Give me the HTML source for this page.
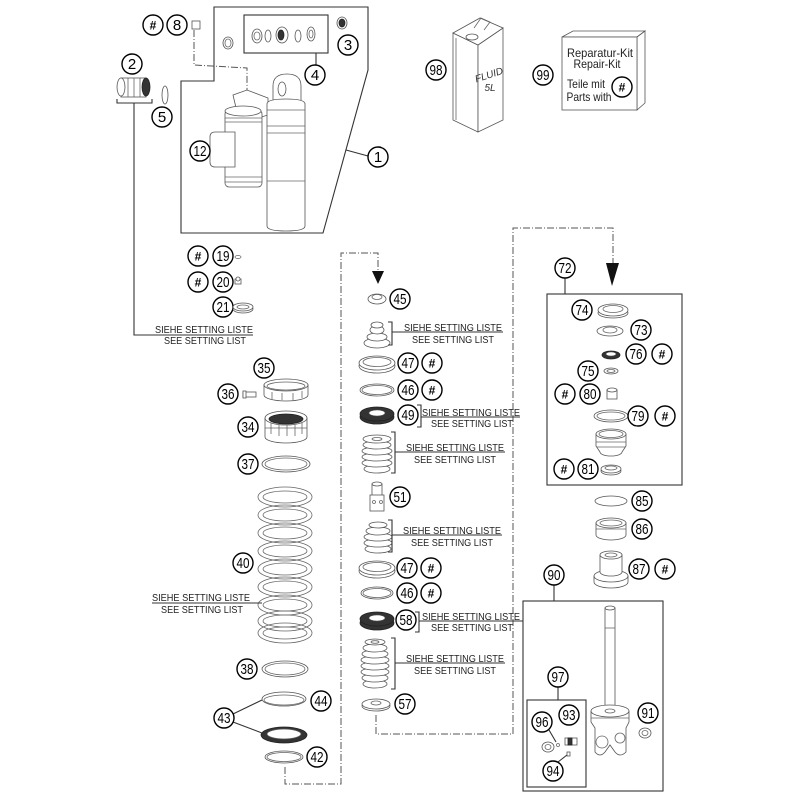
<!DOCTYPE html>
<html><head><meta charset="utf-8">
<style>
html,body{margin:0;padding:0;background:#fff;}
svg{display:block;}
.c{fill:#fff;stroke:#000;stroke-width:1.4}
.n{font-family:"Liberation Sans",sans-serif;font-size:15px;text-anchor:middle;fill:#000}
.h{font-family:"Liberation Sans",sans-serif;font-size:12px;font-weight:bold;text-anchor:middle;fill:#000}
.s{font-family:"Liberation Sans",sans-serif;font-size:10px;text-anchor:middle;fill:#222}
.l{stroke:#333;stroke-width:1.1;fill:none}
.d{stroke:#555;stroke-width:1;fill:none;stroke-dasharray:7 2 1 2}
.p{fill:#fff;stroke:#555;stroke-width:0.8}
.q{fill:none;stroke:#666;stroke-width:0.8}
.k{fill:#333;stroke:#222;stroke-width:0.8}
</style></head>
<body>
<svg width="800" height="800" viewBox="0 0 800 800" xmlns="http://www.w3.org/2000/svg">
<rect width="800" height="800" fill="#fff"/>

<!-- ===== TOP LEFT GROUP ===== -->
<polygon class="l" points="214,7 368,7 368,70 323,233 181,233 181,81 214,81"/>
<rect class="l" x="244" y="15" width="84" height="38"/>
<line class="l" x1="316" y1="53" x2="316" y2="65"/>
<line class="l" x1="346" y1="150" x2="368" y2="156"/>
<polyline class="d" points="194,30 194,65 247,68 247,92"/>

<!-- parts in item 4 box -->
<ellipse class="p" cx="257" cy="36" rx="5" ry="7"/><ellipse class="q" cx="257" cy="36" rx="3" ry="4"/>
<ellipse class="p" cx="268" cy="36" rx="3" ry="6"/>
<ellipse class="p" cx="282" cy="35" rx="6" ry="8"/><ellipse class="k" cx="281" cy="35" rx="3" ry="5"/>
<ellipse class="p" cx="298" cy="36" rx="3" ry="6"/>
<ellipse class="p" cx="311" cy="34" rx="4" ry="7"/><ellipse class="q" cx="311" cy="34" rx="2" ry="4"/>
<ellipse class="p" cx="228" cy="43" rx="5" ry="6"/><ellipse class="q" cx="228" cy="43" rx="3" ry="4"/>
<ellipse class="p" cx="342" cy="23" rx="5" ry="6"/><ellipse class="k" cx="342" cy="23" rx="3" ry="4"/>
<rect class="p" x="192" y="21" width="8" height="8"/>

<!-- part 2 and 5 -->
<rect class="p" x="121" y="78" width="25" height="19"/>
<ellipse class="p" cx="121" cy="87" rx="4" ry="9"/>
<line class="q" x1="128" y1="78" x2="128" y2="97"/><line class="q" x1="134" y1="78" x2="134" y2="97"/><line class="q" x1="140" y1="78" x2="140" y2="97"/>
<ellipse class="k" cx="146" cy="87" rx="4" ry="9"/>
<ellipse class="p" cx="165" cy="95" rx="3" ry="9"/>
<polyline class="l" points="117,99 117,103 152,103 152,99"/>
<polyline class="l" points="134,103 134,335 253,335"/>

<!-- shock absorber -->
<polygon class="p" points="233,95 247,90 268,98 268,115 258,118 237,112"/>
<rect class="p" x="225" y="110" width="37" height="77" rx="4"/>
<ellipse class="p" cx="243" cy="111" rx="18" ry="5"/>
<line class="q" x1="225" y1="118" x2="262" y2="118"/><line class="q" x1="225" y1="122" x2="262" y2="122"/>
<line class="q" x1="225" y1="177" x2="262" y2="177"/><line class="q" x1="225" y1="182" x2="262" y2="182"/>
<path class="p" d="M235,132 L215,132 Q210,132 210,137 L210,162 Q210,167 215,167 L235,167 Z"/>
<path class="p" d="M273,102 L273,86 Q273,74 287,74 Q301,74 301,86 L301,102 Z"/>
<ellipse class="p" cx="282" cy="89" rx="4" ry="7"/>
<path class="p" d="M267,104 Q267,99 286,99 Q305,99 305,104 L305,226 Q305,231 286,231 Q267,231 267,226 Z"/>
<line class="q" x1="267" y1="110" x2="305" y2="110"/>
<line class="q" x1="267" y1="126" x2="305" y2="126"/><line class="q" x1="267" y1="133" x2="305" y2="133"/>
<line class="q" x1="267" y1="181" x2="305" y2="181"/>

<!-- labels top-left -->
<circle class="c" cx="153" cy="25" r="10"/><text class="h" x="153" y="29.5">#</text>
<circle class="c" cx="177" cy="25" r="10"/><text class="n" x="177" y="30">8</text>
<circle class="c" cx="348" cy="45" r="10"/><text class="n" x="348" y="50">3</text>
<circle class="c" cx="315" cy="75" r="10"/><text class="n" x="315" y="80">4</text>
<circle class="c" cx="132" cy="64" r="10"/><text class="n" x="132" y="69">2</text>
<circle class="c" cx="162" cy="117" r="10"/><text class="n" x="162" y="122">5</text>
<circle class="c" cx="200" cy="151" r="10"/><text class="n" x="200" y="156" textLength="13" lengthAdjust="spacingAndGlyphs">12</text>
<circle class="c" cx="378" cy="157" r="10"/><text class="n" x="378" y="162">1</text>

<!-- 19 20 21 -->
<circle class="c" cx="198" cy="256" r="10"/><text class="h" x="198" y="260.5">#</text>
<circle class="c" cx="223" cy="256" r="10"/><text class="n" x="223" y="261" textLength="13" lengthAdjust="spacingAndGlyphs">19</text>
<ellipse class="q" cx="238" cy="257" rx="3" ry="1.5"/>
<circle class="c" cx="198" cy="282" r="10"/><text class="h" x="198" y="286.5">#</text>
<circle class="c" cx="223" cy="282" r="10"/><text class="n" x="223" y="287" textLength="13" lengthAdjust="spacingAndGlyphs">20</text>
<rect class="p" x="235" y="279" width="6" height="5"/><ellipse class="p" cx="238" cy="279" rx="2" ry="2"/>
<circle class="c" cx="223" cy="307" r="10"/><text class="n" x="223" y="312" textLength="13" lengthAdjust="spacingAndGlyphs">21</text>
<ellipse class="p" cx="243" cy="309" rx="10" ry="4"/><ellipse class="p" cx="243" cy="307" rx="10" ry="4"/><ellipse class="q" cx="243" cy="307" rx="6" ry="2"/>
<text class="s" x="204" y="333" textLength="98" lengthAdjust="spacingAndGlyphs">SIEHE SETTING LISTE</text>
<text class="s" x="205" y="344" textLength="82" lengthAdjust="spacingAndGlyphs">SEE SETTING LIST</text>

<!-- ===== TOP RIGHT: can and kit ===== -->
<polygon class="p" points="453,33 478,45 478,132 453,120"/>
<polygon class="p" points="478,45 503,28 503,120 478,132"/>
<polygon class="p" points="453,33 480,18 503,28 478,45"/>
<ellipse class="p" cx="472" cy="37" rx="6" ry="3"/>
<path class="q" d="M474,28 L481,18 L490,22 L484,30"/>
<line class="q" x1="456" y1="38" x2="456" y2="120"/>
<text x="490" y="78" transform="rotate(-18 490 78)" style="font-family:'Liberation Sans',sans-serif;font-size:10px;font-style:italic;text-anchor:middle;fill:#333">FLUID</text>
<text x="490" y="91" style="font-family:'Liberation Sans',sans-serif;font-size:10px;font-style:italic;text-anchor:middle;fill:#333">5L</text>
<circle class="c" cx="436" cy="70" r="10"/><text class="n" x="436" y="75" textLength="13" lengthAdjust="spacingAndGlyphs">98</text>

<polygon class="p" points="562,37 573,31 645,31 637,37"/>
<polygon class="p" points="637,37 645,31 645,103 637,110"/>
<rect class="p" x="562" y="37" width="75" height="73"/>
<text x="600" y="57" textLength="66" lengthAdjust="spacingAndGlyphs" style="font-family:'Liberation Sans',sans-serif;font-size:12px;text-anchor:middle;fill:#222">Reparatur-Kit</text>
<text x="597" y="68" textLength="47" lengthAdjust="spacingAndGlyphs" style="font-family:'Liberation Sans',sans-serif;font-size:12px;text-anchor:middle;fill:#222">Repair-Kit</text>
<text x="586" y="88" textLength="38" lengthAdjust="spacingAndGlyphs" style="font-family:'Liberation Sans',sans-serif;font-size:12px;text-anchor:middle;fill:#222">Teile mit</text>
<text x="589" y="101" textLength="45" lengthAdjust="spacingAndGlyphs" style="font-family:'Liberation Sans',sans-serif;font-size:12px;text-anchor:middle;fill:#222">Parts with</text>
<circle class="c" cx="622" cy="87" r="10"/><text class="h" x="622" y="91.5">#</text>
<circle class="c" cx="543" cy="75" r="10"/><text class="n" x="543" y="80" textLength="13" lengthAdjust="spacingAndGlyphs">99</text>

<!-- ===== DASHED CONNECTORS ===== -->
<polyline class="d" points="285,767 285,784 341,784 341,253 378,253 378,272"/>
<polygon points="372,271 384,271 378,284" fill="#111"/>
<polyline class="d" points="376,715 376,734 513,734 513,228 613,228 613,264"/>
<polygon points="606,263 619,263 612,286" fill="#111"/>

<!-- ===== LEFT COLUMN ===== -->
<!-- 35 -->
<path class="p" d="M264,385 L264,395 A22,6 0 0 0 308,395 L308,385 Z"/>
<ellipse class="p" cx="286" cy="385" rx="22" ry="6"/>
<ellipse class="q" cx="286" cy="386" rx="19" ry="4"/>
<line class="q" x1="272" y1="392" x2="272" y2="399"/><line class="q" x1="282" y1="393" x2="282" y2="400"/><line class="q" x1="293" y1="393" x2="293" y2="400"/><line class="q" x1="302" y1="391" x2="302" y2="398"/>
<circle class="c" cx="264" cy="368" r="10"/><text class="n" x="264" y="373" textLength="13" lengthAdjust="spacingAndGlyphs">35</text>
<rect class="p" x="243" y="392" width="13" height="5"/><rect class="p" x="243" y="391" width="3" height="7"/>
<circle class="c" cx="228" cy="394" r="10"/><text class="n" x="228" y="399" textLength="13" lengthAdjust="spacingAndGlyphs">36</text>
<!-- 34 -->
<path class="p" d="M265,418 L265,437 A21,6 0 0 0 307,437 L307,418 Z"/>
<ellipse class="p" cx="286" cy="418" rx="21" ry="7"/>
<ellipse class="k" cx="286" cy="419" rx="17" ry="5"/>
<line class="q" x1="265" y1="428" x2="307" y2="428"/>
<line class="q" x1="271" y1="423" x2="271" y2="434"/><line class="q" x1="279" y1="425" x2="279" y2="436"/><line class="q" x1="287" y1="425" x2="287" y2="436"/><line class="q" x1="295" y1="425" x2="295" y2="436"/><line class="q" x1="302" y1="423" x2="302" y2="434"/>
<circle class="c" cx="248" cy="427" r="10"/><text class="n" x="248" y="432" textLength="13" lengthAdjust="spacingAndGlyphs">34</text>
<!-- 37 -->
<ellipse class="p" cx="286" cy="464" rx="24" ry="8"/><ellipse class="q" cx="286" cy="464" rx="21" ry="6"/>
<circle class="c" cx="248" cy="464" r="10"/><text class="n" x="248" y="469" textLength="13" lengthAdjust="spacingAndGlyphs">37</text>
<!-- spring 40 -->
<g>
<ellipse class="q" cx="285" cy="497" rx="27" ry="10"/><ellipse class="q" cx="285" cy="497" rx="22" ry="6"/>
<ellipse class="q" cx="285" cy="515" rx="27" ry="10"/><ellipse class="q" cx="285" cy="515" rx="22" ry="6"/>
<ellipse class="q" cx="285" cy="533" rx="27" ry="10"/><ellipse class="q" cx="285" cy="533" rx="22" ry="6"/>
<ellipse class="q" cx="285" cy="551" rx="27" ry="10"/><ellipse class="q" cx="285" cy="551" rx="22" ry="6"/>
<ellipse class="q" cx="285" cy="569" rx="27" ry="10"/><ellipse class="q" cx="285" cy="569" rx="22" ry="6"/>
<ellipse class="q" cx="285" cy="587" rx="27" ry="10"/><ellipse class="q" cx="285" cy="587" rx="22" ry="6"/>
<ellipse class="q" cx="285" cy="605" rx="27" ry="10"/><ellipse class="q" cx="285" cy="605" rx="22" ry="6"/>
<ellipse class="q" cx="285" cy="621" rx="27" ry="10"/><ellipse class="q" cx="285" cy="621" rx="22" ry="6"/>
<ellipse class="q" cx="285" cy="633" rx="27" ry="10"/><ellipse class="q" cx="285" cy="633" rx="22" ry="6"/>
</g>
<circle class="c" cx="243" cy="563" r="10"/><text class="n" x="243" y="568" textLength="13" lengthAdjust="spacingAndGlyphs">40</text>
<line class="l" x1="152" y1="603" x2="262" y2="603"/>
<text class="s" x="201" y="601" textLength="98" lengthAdjust="spacingAndGlyphs">SIEHE SETTING LISTE</text>
<text class="s" x="202" y="613" textLength="82" lengthAdjust="spacingAndGlyphs">SEE SETTING LIST</text>
<!-- 38 44 43 42 -->
<ellipse class="p" cx="285" cy="669" rx="23" ry="8"/><ellipse class="q" cx="285" cy="669" rx="20" ry="6"/>
<circle class="c" cx="247" cy="669" r="10"/><text class="n" x="247" y="674" textLength="13" lengthAdjust="spacingAndGlyphs">38</text>
<ellipse class="p" cx="284" cy="699" rx="22" ry="7"/><ellipse class="q" cx="284" cy="700" rx="20" ry="5"/>
<circle class="c" cx="321" cy="701" r="10"/><text class="n" x="321" y="706" textLength="13" lengthAdjust="spacingAndGlyphs">44</text>
<ellipse class="k" cx="284" cy="735" rx="23" ry="8"/><ellipse cx="284" cy="734" rx="17" ry="5" fill="#fff" stroke="#555" stroke-width="0.8"/>
<line class="l" x1="233" y1="714" x2="262" y2="700"/>
<line class="l" x1="233" y1="722" x2="262" y2="733"/>
<circle class="c" cx="224" cy="718" r="10"/><text class="n" x="224" y="723" textLength="13" lengthAdjust="spacingAndGlyphs">43</text>
<ellipse class="p" cx="284" cy="757" rx="19" ry="6"/><ellipse class="q" cx="284" cy="757" rx="17" ry="4.5"/>
<circle class="c" cx="317" cy="757" r="10"/><text class="n" x="317" y="762" textLength="13" lengthAdjust="spacingAndGlyphs">42</text>

<!-- ===== CENTER COLUMN ===== -->
<ellipse class="p" cx="377" cy="299" rx="9" ry="5"/><ellipse class="q" cx="377" cy="297" rx="5" ry="2.5"/>
<circle class="c" cx="400" cy="299" r="10"/><text class="n" x="400" y="304" textLength="13" lengthAdjust="spacingAndGlyphs">45</text>

<ellipse class="p" cx="377" cy="343" rx="13" ry="5"/>
<ellipse class="p" cx="377" cy="337" rx="10" ry="4"/>
<ellipse class="p" cx="377" cy="330" rx="7" ry="4"/>
<ellipse class="p" cx="377" cy="325" rx="6" ry="3"/>
<polyline class="l" points="388,322 392,322 392,345 388,345"/>
<line class="l" x1="392" y1="332" x2="503" y2="332"/>
<text class="s" x="453" y="331" textLength="98" lengthAdjust="spacingAndGlyphs">SIEHE SETTING LISTE</text>
<text class="s" x="453" y="343" textLength="82" lengthAdjust="spacingAndGlyphs">SEE SETTING LIST</text>

<ellipse class="p" cx="377" cy="366" rx="18" ry="7"/><ellipse class="p" cx="377" cy="363" rx="18" ry="7"/><ellipse class="q" cx="377" cy="362" rx="14" ry="4.5"/>
<circle class="c" cx="408" cy="363" r="10"/><text class="n" x="408" y="368" textLength="13" lengthAdjust="spacingAndGlyphs">47</text>
<circle class="c" cx="432" cy="363" r="10"/><text class="h" x="432" y="367.5">#</text>

<ellipse class="p" cx="377" cy="390" rx="17" ry="6"/><ellipse class="q" cx="377" cy="390" rx="15" ry="4.5"/>
<circle class="c" cx="408" cy="390" r="10"/><text class="n" x="408" y="395" textLength="13" lengthAdjust="spacingAndGlyphs">46</text>
<circle class="c" cx="432" cy="390" r="10"/><text class="h" x="432" y="394.5">#</text>

<ellipse class="k" cx="377" cy="417" rx="17" ry="7"/><ellipse class="k" cx="377" cy="414" rx="17" ry="7"/><ellipse cx="377" cy="413" rx="8" ry="3" fill="#fff" stroke="#555" stroke-width="0.6"/>
<circle class="c" cx="408" cy="415" r="10"/><text class="n" x="408" y="420" textLength="13" lengthAdjust="spacingAndGlyphs">49</text>
<polyline class="l" points="417,405 421,405 421,427 417,427"/>
<line class="l" x1="421" y1="417" x2="520" y2="417"/>
<text class="s" x="471" y="416" textLength="98" lengthAdjust="spacingAndGlyphs">SIEHE SETTING LISTE</text>
<text class="s" x="472" y="427" textLength="82" lengthAdjust="spacingAndGlyphs">SEE SETTING LIST</text>

<ellipse class="p" cx="377" cy="469" rx="13" ry="4"/>
<ellipse class="p" cx="377" cy="463" rx="15" ry="4"/>
<ellipse class="p" cx="377" cy="457" rx="15" ry="4"/>
<ellipse class="p" cx="377" cy="451" rx="15" ry="4"/>
<ellipse class="p" cx="377" cy="445" rx="14" ry="4"/>
<ellipse class="p" cx="377" cy="439" rx="14" ry="4"/>
<ellipse class="q" cx="377" cy="439" rx="5" ry="1.5"/>
<polyline class="l" points="391,432 395,432 395,473 391,473"/>
<line class="l" x1="395" y1="452" x2="505" y2="452"/>
<text class="s" x="455" y="451" textLength="98" lengthAdjust="spacingAndGlyphs">SIEHE SETTING LISTE</text>
<text class="s" x="455" y="463" textLength="82" lengthAdjust="spacingAndGlyphs">SEE SETTING LIST</text>

<rect class="p" x="372" y="484" width="10" height="12"/>
<ellipse class="p" cx="377" cy="484" rx="5" ry="2"/>
<rect class="p" x="370" y="495" width="14" height="16"/>
<circle class="q" cx="374" cy="502" r="1.5"/><circle class="q" cx="381" cy="502" r="1.5"/>
<circle class="c" cx="400" cy="497" r="10"/><text class="n" x="400" y="502" textLength="13" lengthAdjust="spacingAndGlyphs">51</text>

<ellipse class="p" cx="378" cy="549" rx="13" ry="4"/>
<ellipse class="p" cx="378" cy="543" rx="14" ry="4"/>
<ellipse class="p" cx="378" cy="537" rx="14" ry="4"/>
<ellipse class="p" cx="378" cy="531" rx="12" ry="4"/>
<ellipse class="p" cx="378" cy="525" rx="9" ry="3"/>
<polyline class="l" points="388,520 392,520 392,552 388,552"/>
<line class="l" x1="392" y1="535" x2="502" y2="535"/>
<text class="s" x="452" y="534" textLength="98" lengthAdjust="spacingAndGlyphs">SIEHE SETTING LISTE</text>
<text class="s" x="452" y="546" textLength="82" lengthAdjust="spacingAndGlyphs">SEE SETTING LIST</text>

<ellipse class="p" cx="377" cy="571" rx="18" ry="7"/><ellipse class="p" cx="377" cy="568" rx="18" ry="7"/><ellipse class="q" cx="377" cy="567" rx="14" ry="4.5"/>
<circle class="c" cx="407" cy="568" r="10"/><text class="n" x="407" y="573" textLength="13" lengthAdjust="spacingAndGlyphs">47</text>
<circle class="c" cx="431" cy="568" r="10"/><text class="h" x="431" y="572.5">#</text>

<ellipse class="p" cx="377" cy="593" rx="16" ry="6"/><ellipse class="q" cx="377" cy="593" rx="14" ry="4.5"/>
<circle class="c" cx="407" cy="593" r="10"/><text class="n" x="407" y="598" textLength="13" lengthAdjust="spacingAndGlyphs">46</text>
<circle class="c" cx="431" cy="593" r="10"/><text class="h" x="431" y="597.5">#</text>

<ellipse class="k" cx="377" cy="623" rx="17" ry="7"/><ellipse class="k" cx="377" cy="619" rx="17" ry="7"/><ellipse cx="377" cy="618" rx="8" ry="3" fill="#fff" stroke="#555" stroke-width="0.6"/>
<circle class="c" cx="406" cy="620" r="10"/><text class="n" x="406" y="625" textLength="13" lengthAdjust="spacingAndGlyphs">58</text>
<polyline class="l" points="415,612 419,612 419,632 415,632"/>
<line class="l" x1="419" y1="621" x2="523" y2="621"/>
<text class="s" x="471" y="620" textLength="98" lengthAdjust="spacingAndGlyphs">SIEHE SETTING LISTE</text>
<text class="s" x="472" y="631" textLength="82" lengthAdjust="spacingAndGlyphs">SEE SETTING LIST</text>

<ellipse class="p" cx="375" cy="684" rx="12" ry="4"/>
<ellipse class="p" cx="375" cy="678" rx="13" ry="4"/>
<ellipse class="p" cx="375" cy="672" rx="14" ry="4"/>
<ellipse class="p" cx="375" cy="666" rx="14" ry="4"/>
<ellipse class="p" cx="375" cy="660" rx="14" ry="4"/>
<ellipse class="p" cx="375" cy="654" rx="13" ry="4"/>
<ellipse class="p" cx="375" cy="648" rx="12" ry="4"/>
<ellipse class="p" cx="375" cy="642" rx="10" ry="3"/>
<ellipse class="q" cx="375" cy="642" rx="4" ry="1.3"/>
<polyline class="l" points="391,638 395,638 395,689 391,689"/>
<line class="l" x1="395" y1="663" x2="505" y2="663"/>
<text class="s" x="455" y="662" textLength="98" lengthAdjust="spacingAndGlyphs">SIEHE SETTING LISTE</text>
<text class="s" x="455" y="674" textLength="82" lengthAdjust="spacingAndGlyphs">SEE SETTING LIST</text>

<ellipse class="p" cx="376" cy="706" rx="14" ry="5"/><ellipse class="p" cx="376" cy="704" rx="14" ry="5"/><ellipse class="q" cx="376" cy="703" rx="5" ry="2"/>
<circle class="c" cx="405" cy="704" r="10"/><text class="n" x="405" y="709" textLength="13" lengthAdjust="spacingAndGlyphs">57</text>

<!-- ===== BOX 72 ===== -->
<rect class="l" x="547" y="294" width="135" height="191"/>
<line class="l" x1="565" y1="278" x2="565" y2="294"/>
<circle class="c" cx="565" cy="268" r="10"/><text class="n" x="565" y="273" textLength="13" lengthAdjust="spacingAndGlyphs">72</text>

<ellipse class="p" cx="613" cy="313" rx="15" ry="5"/><ellipse class="p" cx="613" cy="310" rx="15" ry="6"/><ellipse class="q" cx="613" cy="309" rx="10" ry="3.5"/>
<circle class="c" cx="582" cy="310" r="10"/><text class="n" x="582" y="315" textLength="13" lengthAdjust="spacingAndGlyphs">74</text>
<ellipse class="p" cx="610" cy="331" rx="13" ry="5"/><ellipse class="q" cx="610" cy="330" rx="7" ry="3"/>
<circle class="c" cx="641" cy="330" r="10"/><text class="n" x="641" y="335" textLength="13" lengthAdjust="spacingAndGlyphs">73</text>
<ellipse class="k" cx="611" cy="355" rx="9" ry="4"/><ellipse cx="611" cy="354" rx="5" ry="2" fill="#fff" stroke="#555" stroke-width="0.5"/>
<circle class="c" cx="636" cy="354" r="10"/><text class="n" x="636" y="359" textLength="13" lengthAdjust="spacingAndGlyphs">76</text>
<circle class="c" cx="662" cy="354" r="10"/><text class="h" x="662" y="358.5">#</text>
<ellipse class="p" cx="611" cy="371" rx="7" ry="3"/><ellipse class="q" cx="611" cy="371" rx="4" ry="1.5"/>
<circle class="c" cx="588" cy="371" r="10"/><text class="n" x="588" y="376" textLength="13" lengthAdjust="spacingAndGlyphs">75</text>
<rect class="p" x="607" y="390" width="10" height="9"/><ellipse class="p" cx="612" cy="390" rx="5" ry="2"/>
<circle class="c" cx="565" cy="394" r="10"/><text class="h" x="565" y="398.5">#</text>
<circle class="c" cx="590" cy="394" r="10"/><text class="n" x="590" y="399" textLength="13" lengthAdjust="spacingAndGlyphs">80</text>
<ellipse class="p" cx="611" cy="416" rx="17" ry="6"/><ellipse class="q" cx="611" cy="416" rx="14" ry="4"/>
<circle class="c" cx="638" cy="416" r="10"/><text class="n" x="638" y="421" textLength="13" lengthAdjust="spacingAndGlyphs">79</text>
<circle class="c" cx="665" cy="416" r="10"/><text class="h" x="665" y="420.5">#</text>
<path class="p" d="M596,434 L596,446 L600,452 A11,4 0 0 0 622,452 L626,446 L626,434 Z"/>
<ellipse class="p" cx="611" cy="434" rx="15" ry="5"/><ellipse class="q" cx="611" cy="434" rx="12" ry="3.5"/>
<line class="q" x1="596" y1="442" x2="626" y2="442"/><line class="q" x1="597" y1="447" x2="625" y2="447"/>
<ellipse class="p" cx="611" cy="471" rx="10" ry="4"/><ellipse class="p" cx="611" cy="469" rx="10" ry="4"/><ellipse class="q" cx="611" cy="468" rx="6" ry="2"/>
<circle class="c" cx="564" cy="469" r="10"/><text class="h" x="564" y="473.5">#</text>
<circle class="c" cx="588" cy="469" r="10"/><text class="n" x="588" y="474" textLength="13" lengthAdjust="spacingAndGlyphs">81</text>

<!-- 85 86 87 -->
<ellipse class="p" cx="611" cy="501" rx="16" ry="5"/>
<circle class="c" cx="642" cy="501" r="10"/><text class="n" x="642" y="506" textLength="13" lengthAdjust="spacingAndGlyphs">85</text>
<path class="p" d="M596,523 L596,535 A15,5 0 0 0 626,535 L626,523 Z"/>
<ellipse class="p" cx="611" cy="523" rx="15" ry="5"/><ellipse class="q" cx="611" cy="523" rx="11" ry="3"/>
<line class="q" x1="596" y1="529" x2="626" y2="529"/>
<circle class="c" cx="642" cy="529" r="10"/><text class="n" x="642" y="534" textLength="13" lengthAdjust="spacingAndGlyphs">86</text>
<path class="p" d="M594,576 L594,582 A17,6 0 0 0 628,582 L628,576 Z"/>
<ellipse class="p" cx="611" cy="576" rx="17" ry="6"/>
<path class="p" d="M600,555 L600,572 A11,4 0 0 0 622,572 L622,555 Z"/>
<ellipse class="p" cx="611" cy="555" rx="11" ry="4"/><ellipse class="q" cx="611" cy="555" rx="6" ry="2"/>
<circle class="c" cx="639" cy="569" r="10"/><text class="n" x="639" y="574" textLength="13" lengthAdjust="spacingAndGlyphs">87</text>
<circle class="c" cx="665" cy="569" r="10"/><text class="h" x="665" y="573.5">#</text>

<!-- ===== BOX 90 ===== -->
<rect class="l" x="523" y="601" width="140" height="190"/>
<line class="l" x1="554" y1="585" x2="554" y2="601"/>
<circle class="c" cx="554" cy="575" r="10"/><text class="n" x="554" y="580" textLength="13" lengthAdjust="spacingAndGlyphs">90</text>
<rect class="p" x="605" y="608" width="10" height="100"/>
<ellipse class="p" cx="610" cy="608" rx="5" ry="2"/>
<line class="q" x1="605" y1="628" x2="615" y2="628"/>
<path class="p" d="M591,711 L591,722 L595,728 L595,752 Q600,758 605,752 L610,745 L615,752 Q620,758 626,752 L626,728 L629,722 L629,711 Z"/>
<ellipse class="p" cx="610" cy="711" rx="19" ry="6"/>
<ellipse class="q" cx="610" cy="711" rx="5" ry="2"/>
<line class="q" x1="591" y1="718" x2="629" y2="718"/>
<circle class="q" cx="602" cy="742" r="6"/><circle class="q" cx="620" cy="738" r="5"/>
<ellipse class="p" cx="645" cy="733" rx="6" ry="5"/><ellipse class="q" cx="645" cy="733" rx="3" ry="2.5"/>
<circle class="c" cx="648" cy="713" r="10"/><text class="n" x="648" y="718" textLength="13" lengthAdjust="spacingAndGlyphs">91</text>

<rect class="l" x="527" y="700" width="59" height="87"/>
<line class="l" x1="558" y1="687" x2="558" y2="700"/>
<circle class="c" cx="558" cy="677" r="10"/><text class="n" x="558" y="682" textLength="13" lengthAdjust="spacingAndGlyphs">97</text>
<ellipse class="p" cx="548" cy="747" rx="6" ry="5"/><ellipse class="q" cx="548" cy="747" rx="3" ry="2.5"/>
<circle class="q" cx="558" cy="745" r="1.5"/>
<rect class="p" x="565" y="738" width="12" height="7"/>
<rect class="k" x="568" y="738" width="4" height="7"/>
<rect class="p" x="567" y="752" width="3" height="4"/>
<line class="l" x1="549" y1="730" x2="556" y2="742"/>
<line class="l" x1="558" y1="762" x2="567" y2="755"/>
<circle class="c" cx="542" cy="722" r="10"/><text class="n" x="542" y="727" textLength="13" lengthAdjust="spacingAndGlyphs">96</text>
<circle class="c" cx="569" cy="715" r="10"/><text class="n" x="569" y="720" textLength="13" lengthAdjust="spacingAndGlyphs">93</text>
<circle class="c" cx="553" cy="771" r="10"/><text class="n" x="553" y="776" textLength="13" lengthAdjust="spacingAndGlyphs">94</text>
</svg>
</body></html>
